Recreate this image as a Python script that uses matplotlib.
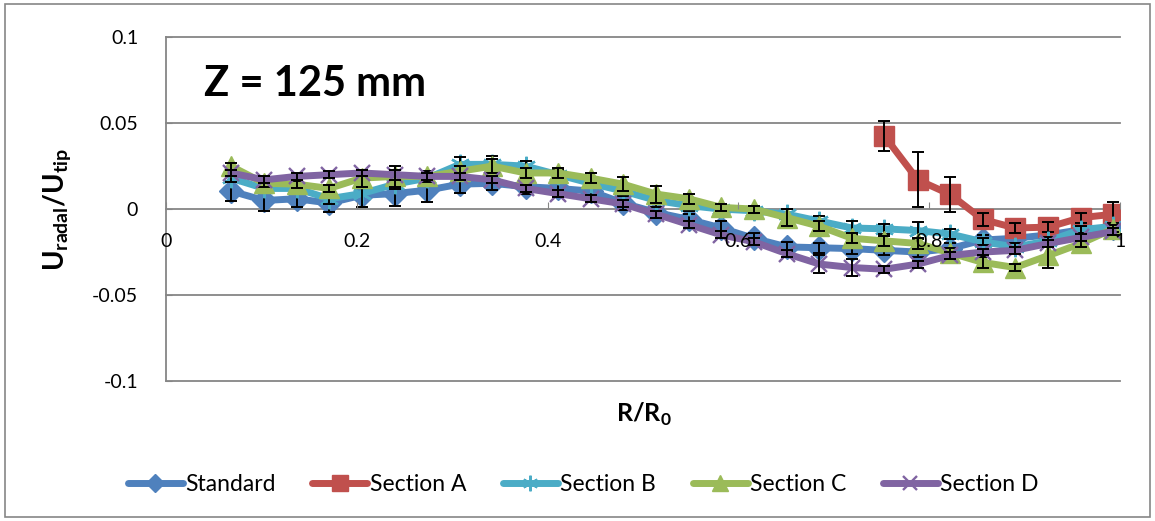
import matplotlib
matplotlib.use("Agg")
import matplotlib.pyplot as plt
from matplotlib.patches import Rectangle

plt.rcParams['font.family'] = ['Lato', 'DejaVu Sans']
plt.rcParams['mathtext.fontset'] = 'custom'
plt.rcParams['mathtext.rm'] = 'Lato'
plt.rcParams['mathtext.bf'] = 'Lato:bold'

# R/R0 positions of the measuring stations
r_ratio = [0.068, 0.103, 0.137, 0.171, 0.205, 0.240, 0.274, 0.308, 0.342, 0.377,
           0.411, 0.445, 0.479, 0.514, 0.548, 0.582, 0.616, 0.651, 0.685, 0.719,
           0.753, 0.788, 0.822, 0.856, 0.890, 0.925, 0.959, 0.993]
r_ratio_a = [0.753, 0.788, 0.822, 0.856, 0.890, 0.925, 0.959, 0.993]

standard = [0.0105, 0.005, 0.006, 0.0035, 0.008, 0.009, 0.011, 0.0145, 0.015, 0.013,
            0.012, 0.0105, 0.0035, -0.002, -0.006, -0.011, -0.017, -0.022, -0.0225, -0.023,
            -0.024, -0.025, -0.023, -0.018, -0.017, -0.015, -0.012, -0.011]
section_a = [0.0425, 0.017, 0.0085, -0.006, -0.011, -0.0105, -0.005, -0.003]
section_b = [0.018, 0.012, 0.012, 0.006, 0.009, 0.0145, 0.018, 0.026, 0.026, 0.025,
             0.020, 0.015, 0.0105, 0.005, 0.002, 0.0, -0.001, -0.003, -0.007, -0.011,
             -0.0115, -0.0125, -0.0145, -0.019, -0.022, -0.0185, -0.012, -0.010]
section_c = [0.025, 0.015, 0.0145, 0.012, 0.018, 0.019, 0.019, 0.022, 0.025, 0.021,
             0.021, 0.018, 0.0145, 0.0087, 0.006, 0.001, 0.0, -0.005, -0.010, -0.017,
             -0.0185, -0.020, -0.0255, -0.031, -0.034, -0.027, -0.020, -0.0115]
section_d = [0.021, 0.017, 0.019, 0.020, 0.021, 0.020, 0.019, 0.019, 0.017, 0.012,
             0.009, 0.006, 0.003, -0.003, -0.009, -0.015, -0.019, -0.026, -0.032, -0.034,
             -0.035, -0.032, -0.027, -0.025, -0.024, -0.020, -0.0165, -0.013]

standard_err = [0.006, 0.006, 0.005, 0.005, 0.007, 0.007, 0.007, 0.005, 0.004, 0.004,
                0.005, 0.004, 0.004, 0.003, 0.003, 0.004, 0.003, 0.003, 0.003, 0.003,
                0.003, 0.003, 0.003, 0.003, 0.003, 0.003, 0.003, 0.003]
section_a_err = [0.009, 0.016, 0.010, 0.004, 0.003, 0.003, 0.003, 0.007]
section_b_err = [0.002, 0.002, 0.002, 0.003, 0.008, 0.003, 0.003, 0.004, 0.005, 0.003,
                 0.003, 0.003, 0.003, 0.004, 0.003, 0.002, 0.003, 0.003, 0.003, 0.004,
                 0.003, 0.005, 0.003, 0.002, 0.002, 0.002, 0.002, 0.002]
section_c_err = [0.002, 0.002, 0.002, 0.002, 0.005, 0.006, 0.003, 0.003, 0.004, 0.003,
                 0.003, 0.003, 0.004, 0.005, 0.003, 0.002, 0.002, 0.005, 0.003, 0.003,
                 0.003, 0.003, 0.003, 0.003, 0.002, 0.007, 0.002, 0.002]
section_d_err = [0.002, 0.002, 0.002, 0.002, 0.002, 0.003, 0.002, 0.002, 0.002, 0.002,
                 0.002, 0.002, 0.002, 0.002, 0.002, 0.002, 0.002, 0.002, 0.005, 0.005,
                 0.002, 0.002, 0.002, 0.002, 0.002, 0.002, 0.002, 0.002]

x_ticks = [0, 0.2, 0.4, 0.6, 0.8, 1]
x_tick_labels = ['0', '0.2', '0.4', '0.6', '0.8', '1']
y_ticks = [-0.1, -0.05, 0, 0.05, 0.1]
y_tick_labels = ['-0.1', '-0.05', '0', '0.05', '0.1']

grey = '#868686'

fig = plt.figure(figsize=(11.55, 5.21), dpi=100)
ax = fig.add_axes([0.1437, 0.2687, 0.826, 0.660])

series = [
    (r_ratio, standard, standard_err, 'Standard', '#4F81BD', 'D', 12, None),
    (r_ratio_a, section_a, section_a_err, 'Section A', '#C0504D', 's', 14, None),
    (r_ratio, section_b, section_b_err, 'Section B', '#4BACC6', (6, 2, 0), 14, 1.7),
    (r_ratio, section_c, section_c_err, 'Section C', '#9BBB59', '^', 14, None),
    (r_ratio, section_d, section_d_err, 'Section D', '#8064A2', 'x', 12, 1.7),
]

z = 3
for xs, ys, es, name, col, mk, ms, mew in series:
    kw = dict(markeredgewidth=mew, markeredgecolor=col) if mew else dict(markeredgecolor=col)
    ax.plot(xs, ys, color=col, lw=5, marker=mk, ms=ms, markerfacecolor=col,
            label=name, zorder=z, solid_capstyle='round', solid_joinstyle='round', **kw)
    ax.errorbar(xs, ys, yerr=es, fmt='none', ecolor='black', elinewidth=1.4,
                capsize=4.5, capthick=1.4, zorder=z + 0.5)
    z += 1

ax.set_xlim(0, 1)
ax.set_ylim(-0.1, 0.1)

# horizontal gridlines
for yv in [0.1, 0.05, -0.05, -0.1]:
    ax.axhline(yv, color=grey, lw=1.3, zorder=1, clip_on=False)

for s in ['top', 'right']:
    ax.spines[s].set_visible(False)
ax.spines['bottom'].set_position(('data', 0))
ax.spines['bottom'].set_color(grey)
ax.spines['bottom'].set_linewidth(1.3)
ax.spines['bottom'].set_zorder(1.5)
ax.spines['left'].set_color(grey)
ax.spines['left'].set_linewidth(1.3)

ax.set_xticks(x_ticks)
ax.set_xticklabels(x_tick_labels)
ax.set_yticks(y_ticks)
ax.set_yticklabels(y_tick_labels)
ax.tick_params(axis='x', direction='in', length=5, color=grey, pad=17, labelsize=14)
ax.tick_params(axis='y', direction='in', length=4, color=grey, pad=20, labelsize=14)
ax.xaxis.set_zorder(20)

ax.set_ylabel(r'$\mathbf{U_{radal}/U_{tip}}$', fontsize=20, labelpad=14)
fig.text(0.557, 0.205, r'R/R$_\mathbf{0}$', ha='center', va='center',
         fontsize=18, fontweight='bold')
ax.text(0.04, 0.865, 'Z = 125 mm', transform=ax.transAxes, fontsize=30,
        fontweight='bold', va='center')

fig.legend(loc='center', bbox_to_anchor=(0.505, 0.07), ncol=5, frameon=False,
           fontsize=16.5, handlelength=2.4, columnspacing=1.6, handletextpad=0.1,
           numpoints=1, markerscale=0.8)

fig.patches.append(Rectangle((0.004, 0.008), 0.992, 0.984, transform=fig.transFigure,
                             fill=False, edgecolor=grey, lw=1.2))

fig.savefig('out.png', dpi=100)
